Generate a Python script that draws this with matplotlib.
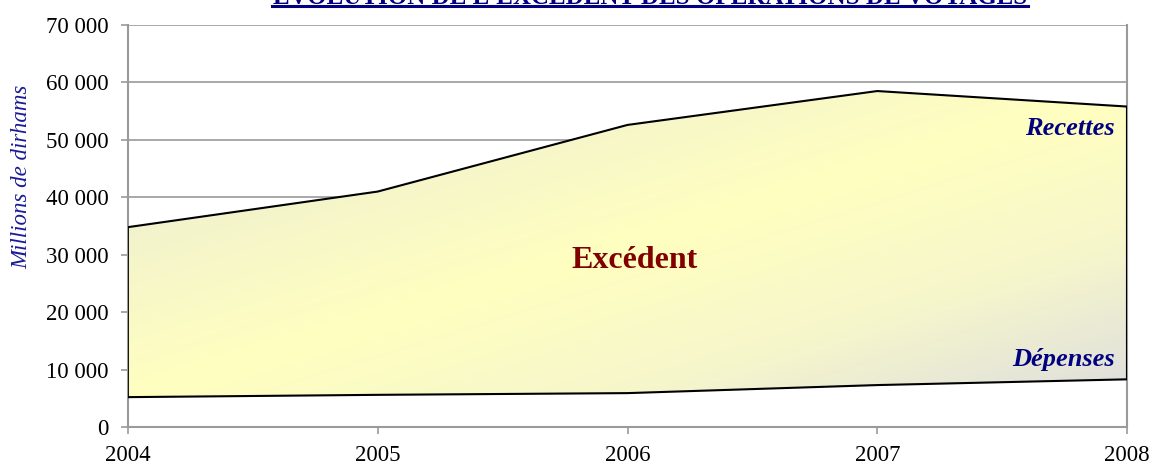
import numpy as np
import matplotlib.pyplot as plt
from matplotlib.colors import LinearSegmentedColormap
from matplotlib.ticker import FuncFormatter

# Données (millions de dirhams)
annees = [2004, 2005, 2006, 2007, 2008]
recettes = [34800, 41000, 52600, 58500, 55800]
depenses = [5200, 5600, 5900, 7300, 8300]

plt.rcParams['font.family'] = ['Liberation Serif', 'DejaVu Serif']

fig = plt.figure(figsize=(11.49, 4.68), dpi=100)
ax = fig.add_axes([128 / 1149, 1 - 427 / 468, (1127 - 128) / 1149, (427 - 25) / 468])

ax.set_xlim(2004, 2008)
ax.set_ylim(0, 70000)

# Dégradé diagonal gris / jaune / gris sur la boîte de la zone d'excédent
ymin, ymax = min(depenses), max(recettes)
n = 300
u, v = np.meshgrid(np.linspace(0, 1, n), np.linspace(0, 1, n))
t = (u + v) / 2  # v=0 en haut (origin upper)
cmap = LinearSegmentedColormap.from_list('exc', ['#e0e0d8', '#f4f4cc', '#ffffc0', '#f6f6cc', '#dedede'])
img = ax.imshow(t, cmap=cmap, extent=[2004, 2008, ymin, ymax], aspect='auto', origin='upper', zorder=1)

poly = ax.fill_between(annees, depenses, recettes, facecolor='none', edgecolor='none', zorder=2)
img.set_clip_path(poly.get_paths()[0], transform=ax.transData)

ax.plot(annees, recettes, color='black', lw=1.5, zorder=3)
ax.plot(annees, depenses, color='black', lw=1.5, zorder=3)
ax.plot([2008, 2008], [depenses[-1], recettes[-1]], color='black', lw=1.5, zorder=3)
ax.plot([2004, 2004], [depenses[0], recettes[0]], color='black', lw=1.2, zorder=3)

# Grille et axes
ax.set_yticks(range(0, 70001, 10000))
ax.set_xticks(annees)
ax.yaxis.set_major_formatter(FuncFormatter(lambda y, p: f"{int(y):,}".replace(",", " ")))
ax.grid(axis='y', color='#9a9a9a', lw=1.2, zorder=0)
ax.set_axisbelow(True)
for s in ['left', 'bottom', 'right']:
    ax.spines[s].set_color('#9a9a9a')
    ax.spines[s].set_linewidth(1.5)
ax.spines['top'].set_visible(False)
ax.tick_params(axis='both', colors='#9a9a9a', labelcolor='black', labelsize=16.5, length=5, width=1.2)
ax.tick_params(axis='x', pad=8)
ax.tick_params(axis='y', pad=9)

ax.set_ylabel('Millions de dirhams', color='#1a1a9a', style='italic', fontsize=16.5)
ax.yaxis.set_label_coords(-0.096, 0.622)

ax.text(2006.03, 29000, 'Excédent', color='#800000', fontsize=23, fontweight='bold', ha='center', va='center', zorder=4)
ax.text(2007.95, 52000, 'Recettes', color='#000080', fontsize=19, fontweight='bold', style='italic', ha='right', va='center', zorder=4)
ax.text(2007.95, 11700, 'Dépenses', color='#000080', fontsize=19, fontweight='bold', style='italic', ha='right', va='center', zorder=4)

# Titre (coupé en haut dans l'original)
fig.text(650 / 1149, 1 - 4 / 468, "ÉVOLUTION DE L'EXCÉDENT DES OPÉRATIONS DE VOYAGES", color='#000080',
         fontsize=18, fontweight='bold', ha='center', va='baseline')
fig.add_artist(plt.Line2D([272 / 1149, 1028 / 1149], [1 - 6 / 468, 1 - 6 / 468], color='#000080', lw=2.2))

fig.savefig('out.png', dpi=100)
